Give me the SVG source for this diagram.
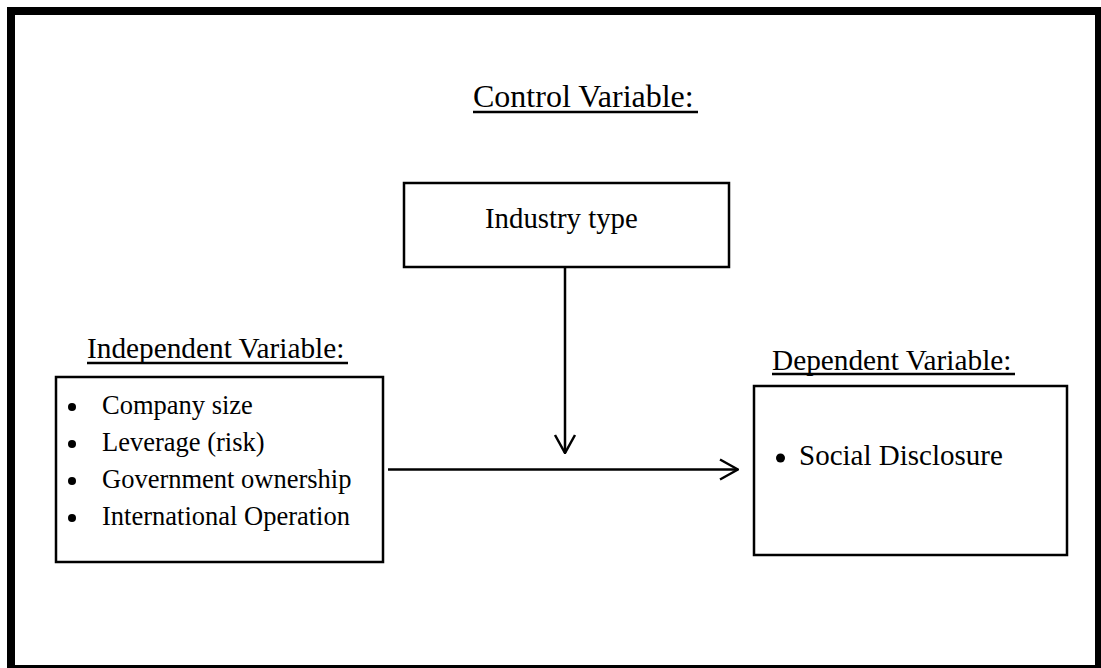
<svg xmlns="http://www.w3.org/2000/svg" width="1101" height="668" viewBox="0 0 1101 668">
<defs>
<style>
.t{font-family:"Liberation Serif","Times New Roman",serif;fill:#000}
.box{fill:#fff;stroke:#000;stroke-width:2.5}
.ln{stroke:#000;stroke-width:2.5;fill:none}
</style>
<marker id="ah" viewBox="0 0 20 24" refX="19" refY="12" markerWidth="20" markerHeight="24" markerUnits="userSpaceOnUse" orient="auto">
<path d="M1,2 L19,12 L1,22" fill="none" stroke="#000" stroke-width="2.5"/>
</marker>
</defs>
<rect x="0" y="0" width="1101" height="668" fill="#fff"/>
<rect x="11" y="11" width="1088" height="658" fill="none" stroke="#000" stroke-width="8"/>

<g id="control-label">
<text class="t" x="473" y="107" font-size="32">Control Variable:</text>
<line x1="473" y1="112" x2="698" y2="112" class="ln" stroke-width="2"/>
</g>

<g id="industry">
<rect class="box" x="404" y="183" width="325" height="84"/>
<text class="t" x="485" y="228" font-size="28.8">Industry type</text>
</g>

<g id="independent">
<text class="t" x="87" y="358" font-size="29.3">Independent Variable:</text>
<line x1="87" y1="363" x2="348" y2="363" class="ln" stroke-width="2"/>
<rect class="box" x="56" y="377" width="327" height="185"/>
<g font-size="26.5" class="t">
<circle cx="72" cy="407" r="4"/>
<text class="t" x="102" y="414" font-size="26.5">Company size</text>
<circle cx="72" cy="444" r="4"/>
<text class="t" x="102" y="451" font-size="26.5">Leverage (risk)</text>
<circle cx="72" cy="481" r="4"/>
<text class="t" x="102" y="488" font-size="26.5">Government ownership</text>
<circle cx="72" cy="518" r="4"/>
<text class="t" x="102" y="525" font-size="26.5">International Operation</text>
</g>
</g>

<g id="dependent">
<text class="t" x="772" y="370" font-size="29.3">Dependent Variable:</text>
<line x1="772" y1="374" x2="1015" y2="374" class="ln" stroke-width="2"/>
<rect class="box" x="754" y="386" width="313" height="169"/>
<circle cx="780.5" cy="458" r="4.5"/>
<text class="t" x="799" y="465" font-size="29">Social Disclosure</text>
</g>

<g id="connectors">
<line class="ln" x1="565" y1="267" x2="565" y2="453" marker-end="url(#ah)"/>
<line class="ln" x1="388" y1="469.5" x2="738" y2="469.5" marker-end="url(#ah)"/>
</g>
</svg>
